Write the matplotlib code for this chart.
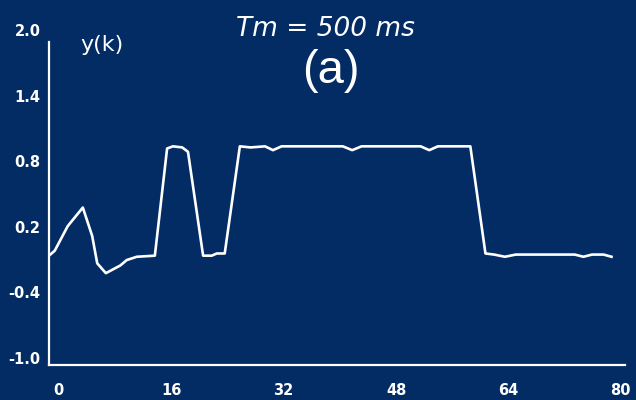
import matplotlib
matplotlib.use("Agg")
import matplotlib.pyplot as plt
import matplotlib.transforms as mtransforms

# traced response y(k) for Tm = 500 ms
k = [0, 0.8, 2.6, 4.7, 6.0, 6.7, 7.9, 9.9, 10.8, 12.2, 14.7,
     16.4, 17.2, 18.5, 19.3, 21.4, 22.6, 23.3, 24.4,
     26.5, 28.0, 30.0, 31.1, 32.3, 36.0, 40.8, 42.1, 43.4, 48.0, 51.6, 52.8, 54.0, 58.5,
     60.6, 61.8, 63.3, 64.8, 70.0, 73.0, 74.2, 75.4, 77.0, 78.1]
y = [0.0, 0.045, 0.27, 0.44, 0.18, -0.07, -0.16, -0.09, -0.04, -0.01, 0.0,
     0.98, 1.0, 0.99, 0.95, 0.0, 0.0, 0.02, 0.02,
     1.0, 0.99, 1.0, 0.965, 1.0, 1.0, 1.0, 0.965, 1.0, 1.0, 1.0, 0.965, 1.0, 1.0,
     0.02, 0.01, -0.01, 0.01, 0.01, 0.01, -0.01, 0.01, 0.01, -0.01]

xticks = [0, 16, 32, 48, 64, 80]
yticks = [-1.0, -0.4, 0.2, 0.8, 1.4, 2.0]

bg = "#022c63"

fig = plt.figure(figsize=(6.36, 4.0), dpi=100, facecolor=bg)
ax = fig.add_axes([0.077, 0.0875, 0.906, 0.82])
ax.set_facecolor(bg)

ax.plot(k, y, color="white", lw=1.9, solid_joinstyle="round")

ax.set_xlim(0, 80)
ax.set_ylim(-1.0, 2.0)
ax.set_xticks(xticks)
ax.set_xticklabels([str(t) for t in xticks])
ax.set_yticks(yticks)
ax.set_yticklabels(["%.1f" % t for t in yticks])

for s in ["top", "right"]:
    ax.spines[s].set_visible(False)
for s in ["left", "bottom"]:
    ax.spines[s].set_color("white")
    ax.spines[s].set_linewidth(1.6)
ax.spines["left"].set_bounds(-1.0, 1.95)

ax.tick_params(axis="both", length=0, colors="white", labelsize=10.5)
ax.tick_params(axis="y", pad=6)
ax.tick_params(axis="x", pad=13)
for lab in ax.get_xticklabels() + ax.get_yticklabels():
    lab.set_fontweight("bold")

# labels in the original sit a little off their grid values
off = mtransforms.ScaledTranslation(0, 7 / 100, fig.dpi_scale_trans)
for lab in ax.get_yticklabels():
    lab.set_transform(lab.get_transform() + off)
x_shift = [9, 7, 4, 2, -2, -5]
for lab, dx in zip(ax.get_xticklabels(), x_shift):
    lab.set_transform(lab.get_transform()
                      + mtransforms.ScaledTranslation(dx / 100, 0, fig.dpi_scale_trans))

fig.text(102 / 636, 1 - 45 / 400, "y(k)", color="white", fontsize=16,
         ha="center", va="center")
fig.text(325 / 636, 1 - 29 / 400, "Tm = 500 ms", color="white", fontsize=19,
         ha="center", va="center", style="italic")
fig.text(331 / 636, 1 - 71 / 400, "(a)", color="white", fontsize=34,
         ha="center", va="center", family="Liberation Sans")

fig.savefig("out.png", dpi=100, facecolor=bg)
